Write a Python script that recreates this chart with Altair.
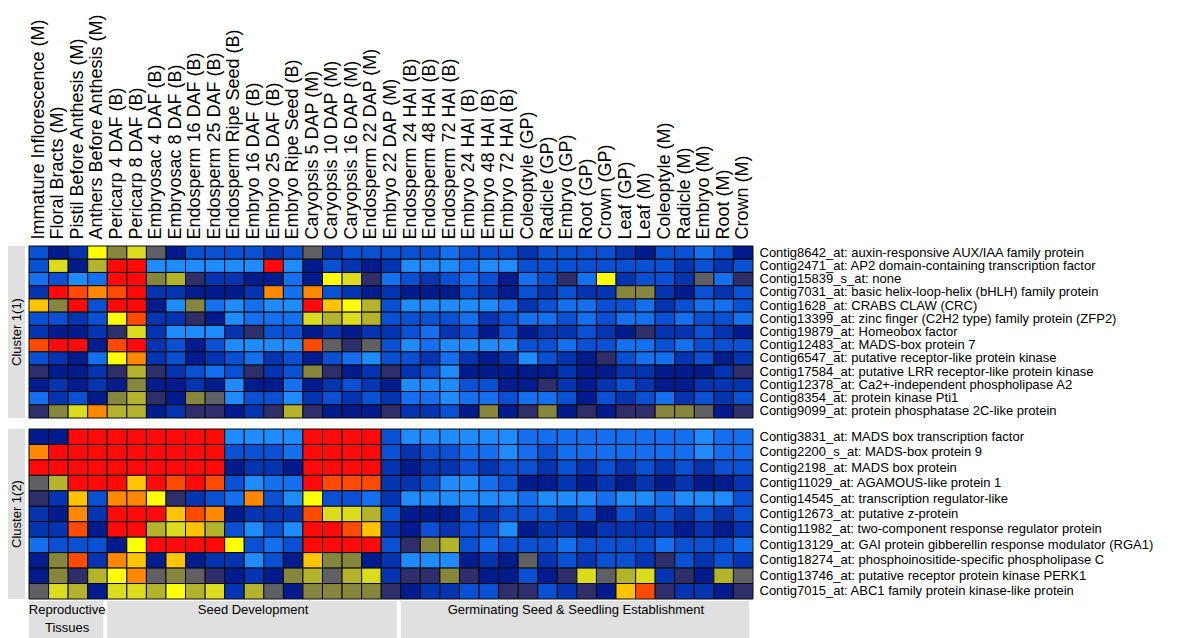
import altair as alt
import pandas as pd

FONT = "Liberation Sans"

columns = [
    "Immature Inflorescence (M)", "Floral Bracts (M)", "Pistil Before Anthesis (M)",
    "Anthers Before Anthesis (M)", "Pericarp 4 DAF (B)", "Pericarp 8 DAF (B)",
    "Embryosac 4 DAF (B)", "Embryosac 8 DAF (B)", "Endosperm 16 DAF (B)",
    "Endosperm 25 DAF (B)", "Endosperm Ripe Seed (B)", "Embryo 16 DAF (B)",
    "Embryo 25 DAF (B)", "Embryo Ripe Seed (B)", "Caryopsis 5 DAP (M)",
    "Caryopsis 10 DAP (M)", "Caryopsis 16 DAP (M)", "Endosperm 22 DAP (M)",
    "Embryo 22 DAP (M)", "Endosperm 24 HAI (B)", "Endosperm 48 HAI (B)",
    "Endosperm 72 HAI (B)", "Embryo 24 HAI (B)", "Embryo 48 HAI (B)",
    "Embryo 72 HAI (B)", "Coleoptyle (GP)", "Radicle (GP)", "Embryo (GP)",
    "Root (GP)", "Crown (GP)", "Leaf (GP)", "Leaf (M)", "Coleoptyle (M)",
    "Radicle (M)", "Embryo (M)", "Root (M)", "Crown (M)",
]

cluster_names = ["Cluster 1(1)", "Cluster 1(2)"]

cluster1_genes = [
    "Contig8642_at: auxin-responsive AUX/IAA family protein",
    "Contig2471_at: AP2 domain-containing transcription factor",
    "Contig15839_s_at: none",
    "Contig7031_at: basic helix-loop-helix (bHLH) family protein",
    "Contig1628_at: CRABS CLAW (CRC)",
    "Contig13399_at: zinc finger (C2H2 type) family protein (ZFP2)",
    "Contig19879_at: Homeobox factor",
    "Contig12483_at: MADS-box protein 7",
    "Contig6547_at: putative receptor-like protein kinase",
    "Contig17584_at: putative LRR receptor-like protein kinase",
    "Contig12378_at: Ca2+-independent phospholipase A2",
    "Contig8354_at: protein kinase Pti1",
    "Contig9099_at: protein phosphatase 2C-like protein",
]

cluster2_genes = [
    "Contig3831_at: MADS box transcription factor",
    "Contig2200_s_at: MADS-box protein 9",
    "Contig2198_at: MADS box protein",
    "Contig11029_at: AGAMOUS-like protein 1",
    "Contig14545_at: transcription regulator-like",
    "Contig12673_at: putative z-protein",
    "Contig11982_at: two-component response regulator protein",
    "Contig13129_at: GAI protein gibberellin response modulator (RGA1)",
    "Contig18274_at: phosphoinositide-specific phospholipase C",
    "Contig13746_at: putative receptor protein kinase PERK1",
    "Contig7015_at: ABC1 family protein kinase-like protein",
]

# expression level codes: 0 = lowest (light blue) ... 14 = highest (red)
cluster1_values = [
    [2,4,3,10,7,9,6,4,2,2,2,2,3,2,6,3,2,2,2, 2,2,1,2,2,2,3,2,2,2,2,3,4,2,2,1,2,4],
    [2,9,4,8,14,14,0,0,0,0,0,0,14,0,4,2,3,4,3, 0,0,0,1,0,0,2,2,2,2,2,2,2,2,3,2,3,2],
    [1,2,0,1,14,14,7,8,5,3,3,4,4,1,4,10,9,5,1, 2,3,2,1,2,4,1,2,5,1,10,3,2,2,3,6,1,5],
    [3,14,13,12,13,14,3,3,4,4,4,3,12,1,12,2,3,4,3, 4,4,4,2,3,4,2,3,2,3,3,7,7,3,4,2,3,2],
    [11,7,14,2,14,14,4,0,7,1,0,1,0,0,14,11,10,8,2, 0,0,0,0,0,1,3,2,1,1,2,2,1,3,2,1,1,2],
    [2,2,3,2,10,13,3,3,5,4,0,1,1,1,9,8,9,8,2, 2,2,2,1,3,2,1,1,2,1,2,1,1,2,1,2,2,1],
    [3,4,4,3,5,9,3,0,0,0,3,5,2,2,4,3,4,3,3, 2,1,3,2,4,2,4,3,3,2,3,4,5,3,3,2,3,4],
    [13,14,14,4,13,14,3,2,4,2,0,0,0,0,13,6,5,6,2, 0,1,0,0,0,0,2,2,1,2,2,1,1,2,1,2,2,2],
    [2,3,4,1,10,12,3,2,4,3,2,1,3,2,4,2,1,0,2, 2,3,1,3,4,3,0,2,3,4,5,2,1,1,3,2,4,3],
    [5,4,4,3,5,8,5,3,2,1,2,5,3,2,7,5,4,3,5, 3,2,0,4,4,4,4,4,3,4,4,3,3,4,4,4,3,5],
    [4,3,4,3,4,7,4,4,3,4,0,4,4,1,4,3,2,3,4, 0,0,0,2,2,4,4,5,3,4,3,2,3,4,4,3,3,3],
    [1,3,2,4,7,8,5,4,7,6,0,2,2,0,3,2,3,2,3, 1,1,0,1,1,2,1,1,2,4,2,3,2,1,3,2,3,2],
    [5,7,9,12,8,8,4,3,5,5,4,3,5,8,5,4,4,4,5, 3,3,2,4,7,4,5,7,4,5,4,5,5,7,7,6,4,5],
]

cluster2_values = [
    [4,4,14,14,14,14,14,14,14,14,0,0,0,0,14,14,14,14,2, 0,0,0,0,0,0,1,1,1,1,1,1,1,1,1,0,1,1],
    [12,14,14,14,14,14,14,14,14,14,2,2,2,1,14,14,14,14,2, 3,2,2,1,1,0,1,2,1,1,1,1,1,1,1,0,1,1],
    [14,14,14,14,14,14,14,14,14,14,4,3,3,4,14,14,14,14,3, 4,3,3,2,3,2,2,3,2,3,2,3,2,3,2,3,2,2],
    [6,8,14,14,14,11,14,13,14,13,2,0,1,1,14,13,13,13,3, 3,2,0,0,1,2,4,4,3,4,3,4,3,4,3,4,4,3],
    [5,3,11,2,12,12,10,5,3,2,1,12,2,0,10,2,2,1,3, 0,0,0,0,0,0,1,0,0,0,1,0,0,1,0,0,0,2],
    [3,4,12,3,14,14,14,11,13,12,4,3,3,3,13,9,9,8,2, 4,4,4,2,3,2,2,2,3,2,4,2,3,2,3,2,3,2],
    [3,3,13,4,14,14,8,9,11,8,2,0,2,0,14,14,13,11,3, 4,2,3,2,2,0,4,3,3,4,3,3,3,3,4,3,4,3],
    [1,2,2,2,4,10,14,14,14,14,10,2,1,2,14,14,14,14,2, 5,7,8,2,1,2,2,2,1,2,2,2,2,1,2,2,2,1],
    [4,7,13,3,12,11,4,11,4,3,3,0,2,4,11,7,7,4,3, 0,0,0,4,3,4,6,3,2,3,2,2,3,5,2,3,2,3],
    [4,7,5,8,10,12,6,7,6,5,4,3,4,7,8,6,8,9,3, 5,5,7,5,4,4,2,4,5,9,6,8,9,3,5,4,8,6],
    [6,9,8,4,9,9,8,10,8,9,3,8,6,4,7,7,7,7,5, 4,3,3,2,2,5,5,2,3,5,4,11,13,5,3,3,4,5],
]

group_names = ["Reproductive\nTissues", "Seed Development",
               "Germinating Seed & Seedling Establishment"]
group_first_col = [0, 4, 19]
group_end_col = [4, 19, 37]

palette = [
    "#1E8CFF", "#1470EE", "#0A50D2", "#0434B0", "#021C8E", "#2E2E6A",
    "#606064", "#86863E", "#B4B42C", "#DCDC1E", "#FFFF00", "#FFC400",
    "#FF8800", "#FF4A00", "#FF0A0A",
]

HEAT_W = 724
H1 = 172
H2 = 170
BAND_W = 17
GAP = 3
GROUP_H = 38


def long_table(genes, values):
    rows = []
    for g, vals in zip(genes, values):
        assert len(vals) == len(columns)
        for c, v in zip(columns, vals):
            rows.append({"gene": g, "col": c, "level": v})
    return pd.DataFrame(rows)


def heat(genes, values, show_x, height):
    df = long_table(genes, values)
    if show_x:
        x_axis = alt.Axis(orient="top", labelAngle=270, labelAlign="left",
                          labelBaseline="middle", labelFontSize=18,
                          labelFont=FONT, ticks=False, tickSize=0,
                          domain=False, labelPadding=7, labelLimit=400,
                          title=None, labelColor="black")
    else:
        x_axis = None
    return alt.Chart(df).mark_rect(stroke="#0a0a0a", strokeWidth=1).encode(
        x=alt.X("col:N", sort=columns, axis=x_axis,
                scale=alt.Scale(paddingInner=0, paddingOuter=0)),
        y=alt.Y("gene:N", sort=genes,
                axis=alt.Axis(orient="right", labelFontSize=13, labelFont=FONT,
                              ticks=False, tickSize=0, domain=False,
                              labelPadding=6, labelLimit=700, title=None,
                              labelColor="black"),
                scale=alt.Scale(paddingInner=0, paddingOuter=0)),
        color=alt.Color("level:O", scale=alt.Scale(domain=list(range(15)),
                                                    range=palette),
                        legend=None),
    ).properties(width=HEAT_W, height=height)


def cluster_band(name, height):
    df = pd.DataFrame({"cluster": [name]})
    base = alt.Chart(df).encode(
        x=alt.X("cluster:N", axis=None,
                scale=alt.Scale(paddingInner=0, paddingOuter=0)),
        y=alt.Y("cluster:N", axis=None,
                scale=alt.Scale(paddingInner=0, paddingOuter=0)),
    )
    rect = base.mark_rect(color="#e0e0e0")
    txt = base.mark_text(angle=270, fontSize=13, font=FONT,
                         color="black").encode(text="cluster:N")
    return (rect + txt).properties(width=BAND_W, height=height)


def group_row():
    gdf = pd.DataFrame({"name": group_names, "start": group_first_col,
                        "end": group_end_col})
    # same column units as the heatmap, placed under the heatmap columns
    xs = alt.Scale(domain=[0, len(columns)], nice=False, zero=False,
                   range=[BAND_W + GAP, BAND_W + GAP + HEAT_W])
    rect = alt.Chart(gdf).mark_rect(color="#e0e0e0", xOffset=1,
                                     x2Offset=-3).encode(
        x=alt.X("start:Q", scale=xs, axis=None),
        x2="end:Q",
    )
    txt = alt.Chart(gdf).transform_calculate(
        mid="(datum.start + datum.end) / 2"
    ).mark_text(baseline="top", fontSize=13, font=FONT, color="black",
                lineBreak="\n", lineHeight=18).encode(
        x=alt.X("mid:Q", scale=xs, axis=None),
        y=alt.value(3),
        text="name:N",
    )
    return (rect + txt).properties(width=BAND_W + GAP + HEAT_W, height=GROUP_H)


row1 = alt.hconcat(cluster_band(cluster_names[0], H1),
                   heat(cluster1_genes, cluster1_values, True, H1),
                   spacing=GAP).resolve_scale(x="independent", y="independent")
row2 = alt.hconcat(cluster_band(cluster_names[1], H2),
                   heat(cluster2_genes, cluster2_values, False, H2),
                   spacing=GAP).resolve_scale(x="independent", y="independent")

top = alt.vconcat(row1, row2, spacing=9).resolve_scale(
    x="independent", y="independent")

chart = alt.vconcat(top, group_row(), spacing=1).resolve_scale(
    x="independent", y="independent"
).properties(
    padding={"left": 0, "top": 4, "right": 0, "bottom": 0}
).configure(
    font=FONT, background="white"
).configure_view(strokeWidth=0, stroke="transparent")

chart.save("out.html", embed_options={"renderer": "svg", "actions": False})
